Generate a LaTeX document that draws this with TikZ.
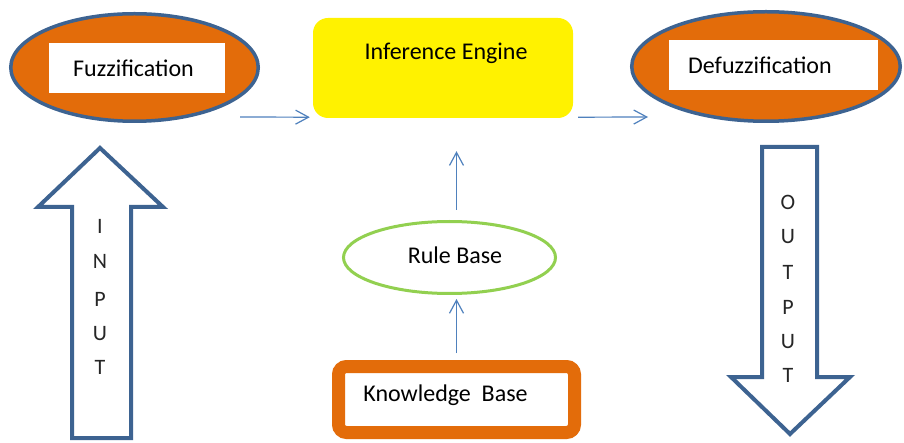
\documentclass[tikz,border=0pt]{standalone}
\usepackage{fontspec}
\setmainfont{Carlito}
\usetikzlibrary{shapes.geometric,arrows.meta,calc}
\definecolor{darkblue}{HTML}{3D6391}
\definecolor{orng}{HTML}{E36C0A}
\definecolor{lblue}{HTML}{4F81BD}
\definecolor{grn}{HTML}{92D050}
\begin{document}
\begin{tikzpicture}[x=1pt,y=-1pt,
  lbl/.style={font=\fontsize{24}{28}\selectfont, inner sep=0pt, text=black},
  fuzzell/.style={ellipse, draw=darkblue, line width=3.5pt, fill=orng, inner sep=0pt},
  whitebox/.style={fill=white, draw=none, inner sep=0pt},
  conn/.style={draw=lblue, line width=1.2pt, -{Straight Barb[length=13pt,width=14pt]}},
  blockarrow/.style={draw=darkblue, line width=4pt, fill=white, line join=miter},
  letter/.style={font=\fontsize{22}{24}\selectfont, inner sep=0pt, text=black!85}]
\fill[white] (0,0) rectangle (904,443);
\useasboundingbox (0,0) rectangle (904,443);

% Fuzzification
\node[fuzzell, minimum width=247.5pt, minimum height=107.5pt] (fuzz) at (134.5,67.5) {};
\node[whitebox, minimum width=176pt, minimum height=50pt] (fuzzbox) at (137,68) {};
\node[lbl, anchor=west] (fuzztxt) at (73,68) {Fuzzification};

% Inference engine
\node[fill=yellow, rounded corners=15pt, minimum width=260pt, minimum height=100pt, inner sep=0pt] (ie) at (443,68) {};
\node[lbl] (ietxt) at (446,53) {Inference Engine};

% Defuzzification
\node[fuzzell, minimum width=268.5pt, minimum height=109.5pt] (defuzz) at (766,66.5) {};
\node[whitebox, minimum width=209pt, minimum height=50pt] (defuzzbox) at (773.5,65) {};
\node[lbl, anchor=west] (defuzztxt) at (688,65) {Defuzzification};

% Rule base
\node[ellipse, draw=grn, line width=3pt, fill=white, minimum width=212pt, minimum height=72pt, inner sep=0pt] (rule) at (449.5,257.5) {};
\node[lbl] (ruletxt) at (455,255) {Rule Base};

% Knowledge base
\node[draw=orng, line width=13pt, fill=white, rounded corners=8pt, minimum width=236pt, minimum height=66pt, inner sep=0pt] (kb) at (456.5,399.5) {};
\node[lbl] (kbtxt) at (445.5,395) {Knowledge~ Base};

% connectors
\coordinate (a1s) at (240,117);
\coordinate (a2e) at (648,117);
\draw[conn] (a1s) -- ($(ie.south west)+(-3,-1)$);
\draw[conn] ($(ie.south east)+(5,-1)$) -- (a2e);
\draw[conn] ($(kb.north)+(0,-7)$) -- ($(rule.south -| kb.north)+(0,4)$);
\draw[conn] ($(rule.north -| kb.north)+(0,-10)$) -- ($(ie.south -| kb.north)+(0,33)$);

% INPUT block arrow
\draw[blockarrow] (72,438) -- (72,207) -- (38,207) -- (100,148) -- (163,207) -- (131,207) -- (131,438) -- cycle;
\foreach \c/\y [count=\i] in {I/226,N/261,P/299,U/334,T/367}
  \node[letter] (in\i) at (100,\y) {\c};

% OUTPUT block arrow
\draw[blockarrow] (762,147) -- (817,147) -- (817,377) -- (850,377) -- (790,434) -- (731,377) -- (762,377) -- cycle;
\foreach \c/\y [count=\i] in {O/202,U/237,T/272,P/307,U/342,T/375}
  \node[letter] (out\i) at (788,\y) {\c};
\end{tikzpicture}
\end{document}
